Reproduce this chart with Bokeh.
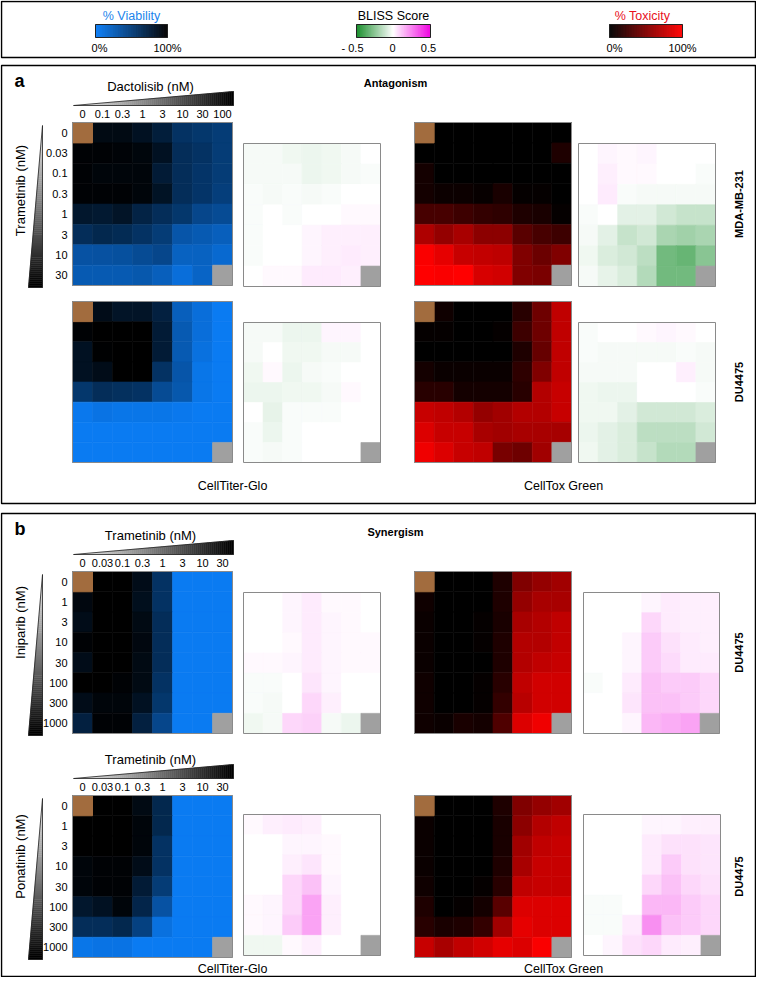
import numpy as np
from bokeh.plotting import figure
from bokeh.models import Range1d, ColumnDataSource, LinearColorMapper
from bokeh.transform import transform
from bokeh.core.properties import value
from bokeh.embed import file_html
from bokeh.resources import INLINE

N = None  # missing well (grey)

# ---------------- dose labels ----------------
dactolisib_nM = ["0", "0.1", "0.3", "1", "3", "10", "30", "100"]
trametinib_a_nM = ["0", "0.03", "0.1", "0.3", "1", "3", "10", "30"]
trametinib_b_nM = ["0", "0.03", "0.1", "0.3", "1", "3", "10", "30"]
iniparib_nM = ["0", "1", "3", "10", "30", "100", "300", "1000"]
ponatinib_nM = ["0", "1", "3", "10", "30", "100", "300", "1000"]

# ---------------- panel a, MDA-MB-231 (rows Trametinib, cols Dactolisib) ----------------
viab_a_mda = [
    [100, 92, 92, 86, 76, 60, 56, 52],
    [98, 98, 97, 95, 86, 64, 60, 52],
    [98, 96, 96, 96, 78, 64, 58, 52],
    [98, 98, 98, 96, 85, 64, 58, 50],
    [82, 80, 84, 72, 64, 56, 44, 40],
    [64, 68, 66, 60, 52, 32, 28, 24],
    [34, 35, 36, 40, 44, 22, 22, 16],
    [28, 28, 28, 30, 24, 12, 20, N],
]
tox_a_mda = [
    [0, 0, 0, 0, 0, 0, 0, 0],
    [0, 0, 0, 0, 0, 0, 0, 12],
    [8, 0, 0, 0, 0, 0, 0, 0],
    [8, 5, 5, 3, 10, 2, 2, 0],
    [28, 28, 24, 20, 18, 12, 10, 2],
    [68, 58, 66, 55, 55, 35, 28, 24],
    [98, 90, 78, 76, 74, 50, 42, 50],
    [100, 98, 100, 84, 82, 50, 48, N],
]
bliss_viab_a_mda = [
    [-0.02, -0.02, -0.03, -0.04, -0.03, -0.02, 0.0],
    [-0.02, -0.02, -0.02, -0.04, -0.03, -0.02, -0.01],
    [-0.01, -0.02, -0.01, -0.02, -0.01, 0.0, 0.0],
    [-0.01, 0.0, -0.01, 0.0, 0.0, 0.01, 0.01],
    [-0.01, 0.0, 0.0, 0.02, 0.03, 0.03, 0.03],
    [-0.01, 0.0, 0.0, 0.02, 0.03, 0.04, 0.03],
    [0.0, 0.01, 0.01, 0.04, 0.04, 0.03, N],
]
bliss_tox_a_mda = [
    [0.0, 0.02, 0.01, 0.02, 0.0, 0.0, 0.0],
    [0.0, 0.03, 0.01, 0.01, 0.0, 0.0, -0.01],
    [0.0, 0.04, -0.01, -0.02, -0.02, -0.02, -0.02],
    [-0.01, 0.0, -0.06, -0.06, -0.10, -0.12, -0.12],
    [-0.02, -0.06, -0.12, -0.10, -0.18, -0.20, -0.18],
    [-0.03, -0.08, -0.10, -0.14, -0.30, -0.32, -0.25],
    [-0.02, -0.05, -0.08, -0.16, -0.30, -0.30, N],
]

# ---------------- panel a, DU4475 ----------------
viab_a_du = [
    [100, 90, 84, 84, 74, 24, 12, 2],
    [98, 100, 100, 100, 78, 28, 12, 2],
    [86, 99, 100, 100, 78, 28, 10, 2],
    [86, 90, 100, 100, 60, 32, 6, 2],
    [56, 64, 62, 60, 40, 30, 6, 2],
    [4, 8, 6, 6, 6, 4, 2, 2],
    [2, 2, 2, 2, 2, 2, 2, 2],
    [2, 2, 2, 2, 2, 2, 2, N],
]
tox_a_du = [
    [0, 6, 0, 0, 0, 16, 43, 75],
    [2, 2, 0, 0, 2, 24, 43, 75],
    [0, 0, 0, 0, 0, 12, 40, 75],
    [8, 4, 4, 4, 4, 18, 50, 75],
    [16, 16, 8, 8, 8, 16, 70, 78],
    [78, 75, 70, 58, 63, 70, 70, 78],
    [86, 78, 78, 66, 63, 66, 66, 65],
    [94, 86, 78, 75, 47, 43, 63, N],
]
bliss_viab_a_du = [
    [-0.02, -0.02, -0.04, -0.04, 0.02, 0.02, 0.0],
    [-0.02, 0.0, -0.03, -0.03, -0.02, -0.02, 0.0],
    [-0.03, 0.01, -0.04, -0.02, -0.01, 0.0, 0.0],
    [-0.04, -0.04, -0.03, -0.03, -0.02, 0.01, 0.0],
    [0.0, -0.05, -0.01, -0.01, -0.01, 0.0, 0.0],
    [-0.01, -0.04, -0.01, 0.0, 0.0, 0.0, 0.0],
    [-0.01, -0.02, -0.01, 0.0, 0.0, 0.0, N],
]
bliss_tox_a_du = [
    [-0.01, 0.0, 0.0, 0.01, 0.02, 0.01, 0.0],
    [-0.01, -0.02, -0.02, -0.02, -0.02, -0.01, -0.02],
    [-0.02, -0.02, -0.02, 0.0, 0.0, 0.03, -0.02],
    [-0.03, -0.04, -0.04, 0.0, 0.0, 0.0, -0.01],
    [-0.03, -0.03, -0.06, -0.10, -0.10, -0.10, -0.08],
    [-0.04, -0.06, -0.08, -0.14, -0.14, -0.14, -0.10],
    [-0.03, -0.06, -0.08, -0.12, -0.16, -0.16, N],
]

# ---------------- panel b, Iniparib x Trametinib (DU4475) ----------------
viab_b_ini = [
    [100, 100, 100, 90, 60, 2, 2, 2],
    [94, 100, 100, 88, 60, 2, 2, 2],
    [90, 100, 100, 92, 64, 2, 2, 2],
    [98, 100, 100, 94, 64, 2, 2, 2],
    [90, 100, 100, 92, 64, 2, 2, 2],
    [100, 100, 98, 92, 60, 2, 2, 2],
    [90, 96, 96, 86, 56, 2, 2, 2],
    [74, 98, 98, 74, 44, 2, 2, N],
]
tox_b_ini = [
    [0, 0, 0, 0, 12, 50, 58, 63],
    [6, 0, 0, 0, 12, 58, 66, 66],
    [4, 0, 0, 2, 10, 66, 70, 75],
    [4, 0, 0, 2, 12, 70, 70, 76],
    [4, 0, 0, 0, 12, 70, 75, 78],
    [6, 0, 0, 2, 16, 75, 82, 82],
    [6, 0, 0, 2, 20, 72, 82, 82],
    [6, 4, 10, 8, 31, 86, 94, N],
]
bliss_viab_b_ini = [
    [0.0, 0.0, 0.02, 0.04, 0.01, 0.01, 0.0],
    [0.0, 0.0, 0.02, 0.04, 0.02, 0.01, 0.0],
    [0.0, 0.0, 0.01, 0.04, 0.02, 0.01, 0.01],
    [0.01, 0.01, 0.02, 0.04, 0.02, 0.01, 0.01],
    [-0.01, -0.01, 0.0, 0.05, 0.02, 0.0, 0.0],
    [-0.01, -0.02, 0.0, 0.08, 0.03, 0.0, 0.0],
    [-0.03, -0.02, 0.08, 0.09, -0.02, -0.04, N],
]
bliss_tox_b_ini = [
    [0.0, 0.0, 0.0, 0.02, 0.04, 0.03, 0.03],
    [0.0, 0.0, 0.0, 0.08, 0.04, 0.03, 0.03],
    [0.0, 0.0, 0.02, 0.10, 0.06, 0.04, 0.03],
    [0.0, 0.0, 0.02, 0.10, 0.07, 0.04, 0.04],
    [-0.01, 0.0, 0.04, 0.12, 0.10, 0.10, 0.08],
    [0.0, 0.0, 0.05, 0.12, 0.12, 0.10, 0.08],
    [0.0, 0.0, 0.02, 0.14, 0.16, 0.18, N],
]

# ---------------- panel b, Ponatinib x Trametinib (DU4475) ----------------
viab_b_pon = [
    [100, 100, 100, 92, 68, 2, 2, 2],
    [100, 100, 100, 96, 68, 2, 2, 2],
    [100, 100, 100, 96, 60, 2, 2, 2],
    [96, 98, 98, 90, 60, 2, 2, 2],
    [96, 98, 98, 78, 52, 2, 2, 2],
    [82, 86, 96, 70, 34, 2, 2, 2],
    [64, 64, 68, 48, 10, 2, 2, 2],
    [6, 8, 8, 2, 2, 2, 2, N],
]
tox_b_pon = [
    [0, 0, 0, 0, 12, 50, 58, 63],
    [4, 0, 0, 0, 10, 55, 70, 75],
    [4, 0, 0, 0, 10, 63, 75, 78],
    [4, 0, 0, 0, 12, 66, 78, 78],
    [6, 0, 0, 2, 16, 75, 78, 78],
    [12, 0, 2, 8, 35, 86, 86, 86],
    [16, 10, 12, 20, 63, 90, 86, 86],
    [78, 66, 75, 82, 90, 86, 98, N],
]
bliss_viab_b_pon = [
    [0.01, 0.03, 0.04, 0.03, 0.0, 0.0, 0.0],
    [0.0, 0.0, 0.02, 0.02, 0.01, 0.0, 0.0],
    [0.0, 0.0, 0.03, 0.05, 0.01, 0.0, 0.0],
    [0.0, 0.0, 0.08, 0.12, 0.02, 0.0, 0.0],
    [0.01, 0.02, 0.08, 0.18, 0.03, 0.0, 0.0],
    [0.01, 0.02, 0.10, 0.18, 0.03, 0.0, 0.0],
    [-0.03, -0.03, 0.01, 0.03, 0.0, 0.0, N],
]
bliss_tox_b_pon = [
    [0.0, 0.0, 0.0, 0.02, 0.02, 0.03, 0.03],
    [0.0, 0.0, 0.0, 0.04, 0.06, 0.06, 0.05],
    [0.0, 0.0, 0.0, 0.04, 0.10, 0.06, 0.05],
    [0.0, 0.0, 0.0, 0.08, 0.12, 0.08, 0.06],
    [-0.01, -0.01, 0.0, 0.14, 0.14, 0.10, 0.08],
    [-0.01, -0.01, 0.04, 0.22, 0.12, 0.10, 0.08],
    [0.0, 0.02, 0.06, 0.08, 0.04, 0.03, N],
]

# ---------------- colour scales ----------------
def ramp(c0, c1, n):
    a = np.array([int(c0[i:i + 2], 16) for i in (1, 3, 5)], float)
    b = np.array([int(c1[i:i + 2], 16) for i in (1, 3, 5)], float)
    out = []
    for t in np.linspace(0, 1, n):
        c = np.round(a + (b - a) * t).astype(int)
        out.append("#%02x%02x%02x" % tuple(c))
    return out

GREY = "#a0a0a0"
BROWN = "#a26c3e"
viab_mapper = LinearColorMapper(palette=ramp("#0a7df7", "#000000", 256), low=0, high=100, nan_color=GREY)
tox_mapper = LinearColorMapper(palette=ramp("#000000", "#ff0000", 256), low=0, high=100, nan_color=GREY)
bliss_mapper = LinearColorMapper(palette=ramp("#148c28", "#ffffff", 128) + ramp("#ffffff", "#f000e0", 128)[1:],
                                 low=-0.5, high=0.5, nan_color=GREY)

FONT = value("Liberation Sans")

p = figure(width=756, height=977, x_range=Range1d(0, 756), y_range=Range1d(977, 0),
           output_backend="svg", toolbar_location=None, x_axis_type=None, y_axis_type=None,
           min_border=0, min_border_left=0, min_border_right=0, min_border_top=0, min_border_bottom=0)
p.grid.visible = False
p.outline_line_color = None
p.background_fill_color = "white"
p.border_fill_color = "white"


def txt(x, y, s, size="11px", align="center", bold=False, color="black", angle=0.0, baseline="middle"):
    p.text(x=[x], y=[y], text=[s], text_font=FONT, text_font_size=size, text_align=align,
           text_baseline=baseline, text_color=color, angle=angle,
           text_font_style="bold" if bold else "normal")


def draw_grid(data, mapper, x0, x1, y0, y1, control=False):
    arr = np.array(data, dtype=float)
    nr, nc = arr.shape
    cw = (x1 - x0) / nc
    ch = (y1 - y0) / nr
    r, c = np.indices(arr.shape)
    src = ColumnDataSource(dict(x=x0 + (c.ravel() + 0.5) * cw, y=y0 + (r.ravel() + 0.5) * ch, v=arr.ravel()))
    p.rect("x", "y", width=cw, height=ch, source=src, fill_color=transform("v", mapper),
           line_color=transform("v", mapper), line_width=0.6)
    if control:
        p.rect(x=[x0 + cw / 2], y=[y0 + ch / 2], width=cw, height=ch, fill_color=BROWN, line_color=BROWN)
    p.quad(left=[x0], right=[x1], top=[y0], bottom=[y1], fill_color=None, line_color="#8a8a8a", line_width=1)
    return cw, ch


def hwedge(x0, x1, ybot, ytop, n=80):
    xs, ys, cols = [], [], []
    edges = np.linspace(x0, x1, n + 1)
    shade = ramp("#f4f4f4", "#000000", n)
    for i in range(n):
        xa, xb = edges[i], edges[i + 1]
        ta = ybot + (ytop - ybot) * (xa - x0) / (x1 - x0)
        tb = ybot + (ytop - ybot) * (xb - x0) / (x1 - x0)
        xs.append([xa, xb, xb, xa])
        ys.append([ybot, ybot, tb, ta])
        cols.append(shade[i])
    p.patches(xs, ys, fill_color=cols, line_color=cols, line_width=0.5)
    p.patch([x0, x1, x1], [ybot, ybot, ytop], fill_color=None, line_color="#222222", line_width=0.8)


def vwedge(xright, xleft, ytop, ybot, n=80):
    xs, ys, cols = [], [], []
    edges = np.linspace(ytop, ybot, n + 1)
    shade = ramp("#f4f4f4", "#000000", n)
    for i in range(n):
        ya, yb = edges[i], edges[i + 1]
        la = xright + (xleft - xright) * (ya - ytop) / (ybot - ytop)
        lb = xright + (xleft - xright) * (yb - ytop) / (ybot - ytop)
        xs.append([xright, xright, lb, la])
        ys.append([ya, yb, yb, ya])
        cols.append(shade[i])
    p.patches(xs, ys, fill_color=cols, line_color=cols, line_width=0.5)
    p.patch([xright, xright, xleft], [ytop, ybot, ybot], fill_color=None, line_color="#222222", line_width=0.8)


# ---------------- legend ----------------
p.quad(left=[1], right=[755], top=[1], bottom=[57], fill_color=None, line_color="black", line_width=1.5)


def colorbar(mapper, x0, x1, y0, y1, n=100):
    vals = np.linspace(mapper.low, mapper.high, n)
    w = (x1 - x0) / n
    src = ColumnDataSource(dict(x=x0 + (np.arange(n) + 0.5) * w, v=vals))
    p.rect("x", (y0 + y1) / 2, width=w, height=y1 - y0, source=src, fill_color=transform("v", mapper),
           line_color=transform("v", mapper), line_width=0.5)
    p.quad(left=[x0], right=[x1], top=[y0], bottom=[y1], fill_color=None, line_color="#222222", line_width=1)


txt(131, 15, "% Viability", size="12.5px", color="#1a84ec")
colorbar(viab_mapper, 95, 167, 24, 37)
txt(99, 47, "0%", size="11px")
txt(167, 47, "100%", size="11px")

txt(393, 15, "BLISS Score", size="12.5px")
colorbar(bliss_mapper, 356, 430, 24, 37)
txt(352, 47, "- 0.5", size="11px")
txt(392, 47, "0", size="11px")
txt(428, 47, "0.5", size="11px")

txt(642, 15, "% Toxicity", size="12.5px", color="#e8101c")
colorbar(tox_mapper, 609, 682, 24, 37)
txt(614, 47, "0%", size="11px")
txt(682, 47, "100%", size="11px")

# ---------------- panel frames ----------------
p.quad(left=[1], right=[755], top=[65], bottom=[503], fill_color=None, line_color="black", line_width=1.5)
p.quad(left=[1], right=[755], top=[513], bottom=[976], fill_color=None, line_color="black", line_width=1.5)
txt(14, 80, "a", size="18px", bold=True, align="left")
txt(395, 82, "Antagonism", size="11px", bold=True)
txt(14, 528, "b", size="18px", bold=True, align="left")
txt(395, 531, "Synergism", size="11px", bold=True)

# ---------------- heat-map rows ----------------
HX0, HX1 = 72, 232      # viability grid
BX0, BX1 = 243, 380     # bliss (viability)
TX0, TX1 = 414, 571     # toxicity grid

rows = [
    dict(viab=viab_a_mda, tox=tox_a_mda, bv=bliss_viab_a_mda, bt=bliss_tox_a_mda,
         rlab=trametinib_a_nM, clab=dactolisib_nM, xt="Dactolisib (nM)", yt="Trametinib (nM)", yc=190,
         cell="MDA-MB-231", ht=122, hb=285, bt0=143, bb=286, b2x=(578, 715), head=True),
    dict(viab=viab_a_du, tox=tox_a_du, bv=bliss_viab_a_du, bt=bliss_tox_a_du,
         rlab=None, clab=None, xt=None, yt=None, yc=None,
         cell="DU4475", ht=301, hb=462, bt0=322, bb=462, b2x=(578, 715), head=False),
    dict(viab=viab_b_ini, tox=tox_b_ini, bv=bliss_viab_b_ini, bt=bliss_tox_b_ini,
         rlab=iniparib_nM, clab=trametinib_b_nM, xt="Trametinib (nM)", yt="Iniparib (nM)", yc=622,
         cell="DU4475", ht=571, hb=733, bt0=592, bb=733, b2x=(583, 719), head=True),
    dict(viab=viab_b_pon, tox=tox_b_pon, bv=bliss_viab_b_pon, bt=bliss_tox_b_pon,
         rlab=ponatinib_nM, clab=trametinib_b_nM, xt="Trametinib (nM)", yt="Ponatinib (nM)", yc=856,
         cell="DU4475", ht=795, hb=957, bt0=814, bb=955, b2x=(583, 720), head=True),
]

for r in rows:
    cw, ch = draw_grid(r["viab"], viab_mapper, HX0, HX1, r["ht"], r["hb"], control=True)
    draw_grid(r["tox"], tox_mapper, TX0, TX1, r["ht"], r["hb"], control=True)
    draw_grid(r["bv"], bliss_mapper, BX0, BX1, r["bt0"], r["bb"])
    draw_grid(r["bt"], bliss_mapper, r["b2x"][0], r["b2x"][1], r["bt0"], r["bb"])
    txt(738, (r["ht"] + r["hb"]) / 2, r["cell"], size="11px", bold=True, angle=np.pi / 2)
    if r["head"]:
        for j, lab in enumerate(r["clab"]):
            txt(HX0 + (j + 0.5) * cw, r["ht"] - 9, lab, size="11px")
        for i, lab in enumerate(r["rlab"]):
            txt(67, r["ht"] + (i + 0.5) * ch, lab, size="11px", align="right")
        txt(150, r["ht"] - 36, r["xt"], size="13px")
        hwedge(73, 233, r["ht"] - 17, r["ht"] - 31)
        vwedge(42, 28, r["ht"] + 3, r["hb"] + 2)
        txt(20, r["yc"], r["yt"], size="13px", angle=np.pi / 2)

txt(232, 485, "CellTiter-Glo", size="12.5px")
txt(563, 485, "CellTox Green", size="12.5px")
txt(232, 968, "CellTiter-Glo", size="12.5px")
txt(563, 968, "CellTox Green", size="12.5px")

open("out.html", "w").write(file_html(p, INLINE))
